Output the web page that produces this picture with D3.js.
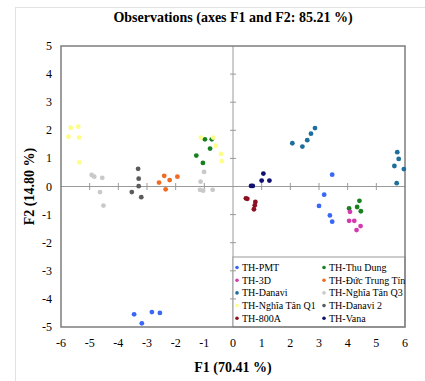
<!DOCTYPE html>
<html>
<head>
<meta charset="utf-8">
<script src="https://cdn.jsdelivr.net/npm/d3@7"></script>
<style>
  body { margin: 0; background: #fff; }
</style>
</head>
<body>
<div id="viz"></div>
<script>
// groups, legend order (two columns, read row by row)
const groups = ['TH-PMT', 'TH-Thu Dung', 'TH-3D', 'TH-Đức Trung Tín', 'TH-Danavi',
  'TH-Nghĩa Tân Q3', 'TH-Nghĩa Tân Q1', 'TH-Danavi 2', 'TH-800A', 'TH-Vana'];
const colors = ['#3a67f5', '#17801f', '#d43aae', '#f26a21', '#1d6e9c',
  '#c9c9c9', '#fdfd8a', '#5b5b5b', '#8c1020', '#101070'];

// observation scores per group: [F1, F2]
const pmt = [[3.46, 0.42], [3.18, -0.29], [3.00, -0.69], [3.38, -1.03], [3.46, -1.25],
  [-3.45, -4.55], [-3.18, -4.87], [-2.83, -4.47], [-2.55, -4.50]];
const thuDung = [[-1.28, 1.10], [-1.05, 0.84], [-0.98, 1.68], [-0.80, 1.35], [-0.74, 1.68],
  [4.05, -0.78], [4.33, -0.73], [4.41, -0.51], [4.46, -0.88]];
const th3d = [[4.08, -0.90], [4.05, -1.22], [4.23, -1.22], [4.31, -1.55], [4.45, -1.41]];
const ducTrungTin = [[-2.58, 0.14], [-2.40, 0.38], [-2.35, -0.10], [-2.21, 0.23], [-1.94, 0.35]];
const danavi = [[2.07, 1.54], [2.42, 1.42], [2.59, 1.65], [2.72, 1.88], [2.86, 2.08],
  [5.73, 1.22], [5.78, 0.98], [5.63, 0.73], [5.96, 0.62], [5.71, 0.12]];
const nghiaTanQ3 = [[-4.93, 0.41], [-4.84, 0.35], [-4.56, 0.31], [-4.64, -0.20], [-4.52, -0.68],
  [-1.01, 0.52], [-1.13, 0.17], [-1.15, -0.12], [-1.04, -0.15], [-0.71, -0.12]];
const nghiaTanQ1 = [[-5.74, 1.77], [-5.66, 2.09], [-5.40, 2.13], [-5.37, 1.74], [-5.36, 0.86],
  [-1.12, 1.74], [-0.69, 1.74], [-0.60, 1.45], [-0.42, 1.16], [-0.39, 0.90]];
const danavi2 = [[-3.31, 0.63], [-3.29, 0.28], [-3.29, 0.01], [-3.53, -0.20], [-3.20, -0.38]];
const th800a = [[0.45, -0.42], [0.50, -0.44], [0.78, -0.55], [0.76, -0.67], [0.73, -0.81]];
const vana = [[0.63, 0.02], [0.69, 0.02], [1.00, 0.21], [1.06, 0.46], [1.27, 0.21]];

const series = [pmt, thuDung, th3d, ducTrungTin, danavi, nghiaTanQ3, nghiaTanQ1, danavi2, th800a, vana];

const xTicks = d3.range(-6, 7);
const yTicks = d3.range(-5, 6);

const W = 425, H = 381;
const margin = { top: 46, right: 20, bottom: 54, left: 61 };

const svg = d3.select('#viz').append('svg')
  .attr('width', W)
  .attr('height', H)
  .style('font-family', "'Liberation Serif', 'Times New Roman', Times, serif");

// faint outer frame of the original figure
svg.append('rect')
  .attr('x', 15.5).attr('y', 7.5)
  .attr('width', W).attr('height', H)
  .attr('fill', 'none')
  .attr('stroke', '#e2e2e2');

const x = d3.scaleLinear().domain([-6, 6]).range([margin.left, W - margin.right]);
const y = d3.scaleLinear().domain([-5, 5]).range([H - margin.bottom, margin.top]);

svg.append('text')
  .attr('x', x(0)).attr('y', 22)
  .attr('text-anchor', 'middle')
  .attr('font-weight', 'bold')
  .attr('font-size', 14)
  .text('Observations (axes F1 and F2: 85.21 %)');

// zero lines with small crossing ticks
svg.append('line')
  .attr('x1', x(-6)).attr('x2', x(6))
  .attr('y1', y(0)).attr('y2', y(0))
  .attr('stroke', '#9a9a9a');
svg.append('line')
  .attr('x1', x(0)).attr('x2', x(0))
  .attr('y1', y(5)).attr('y2', y(-5))
  .attr('stroke', '#9a9a9a');

// legend box sits in the lower right quadrant
const legX = x(0), legY = 257;
svg.append('rect')
  .attr('x', legX).attr('y', legY)
  .attr('width', x(6) - legX).attr('height', y(-5) - legY)
  .attr('fill', '#fff')
  .attr('stroke', '#9a9a9a');

svg.append('g').selectAll('line')
  .data(xTicks.filter(d => d !== 0 && Math.abs(d) !== 6))
  .join('line')
  .attr('x1', d => x(d)).attr('x2', d => x(d))
  .attr('y1', y(0) - 3.5).attr('y2', y(0) + 3.5)
  .attr('stroke', '#9a9a9a');
svg.append('g').selectAll('line')
  .data(yTicks.filter(d => d !== 0 && Math.abs(d) !== 5))
  .join('line')
  .attr('x1', x(0) - 3).attr('x2', x(0) + 3)
  .attr('y1', d => y(d)).attr('y2', d => y(d))
  .attr('stroke', '#9a9a9a');

// plot frame
svg.append('rect')
  .attr('x', x(-6)).attr('y', y(5))
  .attr('width', x(6) - x(-6)).attr('height', y(-5) - y(5))
  .attr('fill', 'none')
  .attr('stroke', '#7d7d7d')
  .attr('stroke-width', 1.5);

// tick labels
svg.append('g').selectAll('text')
  .data(xTicks)
  .join('text')
  .attr('x', d => x(d)).attr('y', y(-5) + 20)
  .attr('text-anchor', 'middle')
  .attr('font-size', 12)
  .text(d => d);
svg.append('g').selectAll('text')
  .data(yTicks)
  .join('text')
  .attr('x', x(-6) - 9).attr('y', d => y(d) + 4)
  .attr('text-anchor', 'end')
  .attr('font-size', 12)
  .text(d => d);

svg.append('text')
  .attr('x', x(0)).attr('y', 372)
  .attr('text-anchor', 'middle')
  .attr('font-weight', 'bold')
  .attr('font-size', 14)
  .text('F1 (70.41 %)');
svg.append('text')
  .attr('transform', `translate(34,${y(0)}) rotate(-90)`)
  .attr('text-anchor', 'middle')
  .attr('font-weight', 'bold')
  .attr('font-size', 14)
  .text('F2 (14.80 %)');

// points
series.forEach((pts, i) => {
  svg.append('g').selectAll('circle')
    .data(pts)
    .join('circle')
    .attr('cx', d => x(d[0]))
    .attr('cy', d => y(d[1]))
    .attr('r', 2.4)
    .attr('fill', colors[i]);
});

// legend entries
const leg = svg.append('g').selectAll('g')
  .data(groups)
  .join('g')
  .attr('transform', (d, i) => `translate(${i % 2 ? 324 : 237},${267.5 + Math.floor(i / 2) * 12.7})`);
leg.append('circle')
  .attr('r', 1.8)
  .attr('fill', (d, i) => colors[i]);
leg.append('text')
  .attr('x', 5).attr('y', 3.5)
  .attr('font-size', 10)
  .text(d => d);
</script>
</body>
</html>
